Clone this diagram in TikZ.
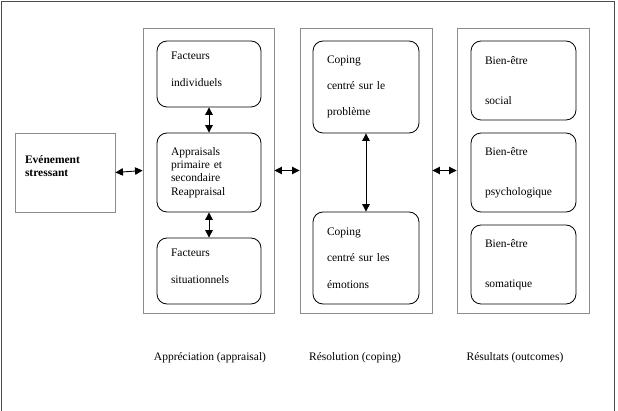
\documentclass[tikz,border=0pt]{standalone}
\usepackage{fontspec}
\setmainfont{Liberation Serif}
\usetikzlibrary{arrows.meta}

\begin{document}
\begin{tikzpicture}[x=1pt,y=-1pt,
    every node/.style={font=\fontsize{11.5}{13.3}\selectfont},
    panel/.style={draw=black!45, line width=0.9pt, minimum height=285pt, inner sep=0pt},
    inbox/.style={draw, rounded corners=10pt, line width=0.8pt, align=left,
        inner xsep=14pt, inner ysep=0pt},
    evtbox/.style={draw=black!45, line width=0.9pt, align=left, text width=80pt,
        inner xsep=10pt, inner ysep=0pt, minimum height=79pt, font=\fontsize{11.5}{13.3}\selectfont\bfseries},
    dbl/.style={{Triangle[length=7.5pt,width=7.5pt]}-{Triangle[length=7.5pt,width=7.5pt]}, line width=0.9pt}]
    \useasboundingbox (0,0) rectangle (618,411);
    % outer frame, open at the bottom
    \draw[black!70, line width=0.9pt] (1,411) -- (1,1) -- (614,1) -- (614,411);

    \node[evtbox] (evt) at (65,172.5) {Evénement\\stressant\\\mbox{}};

    % the three panels
    \node[panel, minimum width=131pt] (pan1) at (208.5,170.5) {};
    \node[panel, minimum width=132pt] (pan2) at (366,170.5) {};
    \node[panel, minimum width=132pt] (pan3) at (523,170.5) {};

    % appraisal
    \node[inbox, text width=76pt, minimum height=66pt] (indiv) at (209,74)
        {Facteurs\\[13pt]individuels\\[-4pt]\mbox{}};
    \node[inbox, text width=76pt, minimum height=79pt] (appr) at (209,172.5)
        {Appraisals\\primaire et\\secondaire\\Reappraisal};
    \node[inbox, text width=76pt, minimum height=66pt] (situ) at (209,271)
        {Facteurs\\[13pt]situationnels\\[-4pt]\mbox{}};

    % coping
    \node[inbox, text width=78pt, minimum height=92pt] (probl) at (366,87)
        {Coping\\[13pt]centré sur le\\[13pt]problème};
    \node[inbox, text width=78pt, minimum height=92pt] (emot) at (366,258)
        {Coping\\[13pt]centré sur les\\[13pt]émotions};

    % outcomes
    \node[inbox, text width=77pt, minimum height=79pt] (soc) at (523.5,80.5)
        {Bien-être\\[27pt]social};
    \node[inbox, text width=77pt, minimum height=79pt] (psy) at (523.5,172.5)
        {Bien-être\\[27pt]psychologique};
    \node[inbox, text width=77pt, minimum height=79pt] (soma) at (523.5,264.5)
        {Bien-être\\[27pt]somatique};

    \draw[dbl] (evt.east) -- (pan1.west);
    \draw[dbl] (pan1.east) -- (pan2.west);
    \draw[dbl] (pan2.east) -- (pan3.west);
    \draw[dbl] (indiv) -- (appr);
    \draw[dbl] (appr) -- (situ);
    \draw[dbl] (probl) -- (emot);

    \node (capA) at (210,358) {Appréciation (appraisal)};
    \node (capB) at (355,358) {Résolution (coping)};
    \node (capC) at (515,358) {Résultats (outcomes)};
\end{tikzpicture}
\end{document}
